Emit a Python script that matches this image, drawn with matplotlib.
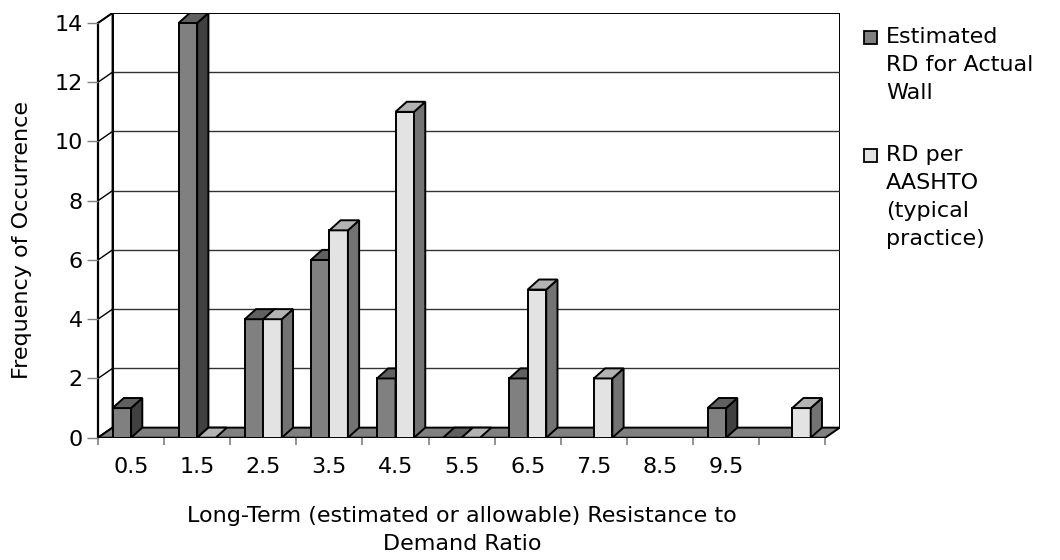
import numpy as np
import matplotlib.pyplot as plt
from matplotlib.patches import Polygon, Rectangle

# the reference uses a widely letter-spaced Arial; DejaVu is wider and comes closer
plt.rcParams['font.family'] = ['DejaVu Sans']

categories = ['0.5', '1.5', '2.5', '3.5', '4.5', '5.5', '6.5', '7.5', '8.5', '9.5', '']
# nan = blank cell (nothing drawn), 0 = flat bar
estimated = [1, 14, 4, 6, 2, 0, 2, np.nan, np.nan, 1, np.nan]
aashto = [np.nan, 0, 4, 7, 11, 0, 5, 2, np.nan, np.nan, 1]
series_labels = ['Estimated\nRD for Actual\nWall', 'RD per\nAASHTO\n(typical\npractice)']
yticks = [0, 2, 4, 6, 8, 10, 12, 14]

# face colours: front, top, side
dark = ('#808080', '#606060', '#404040')
light = ('#e3e3e3', '#b3b3b3', '#737373')

fs = 16
ymax = yticks[-1]
ddx, ddy = 0.22, 0.34      # depth of the floor / walls
bdx = 0.17                 # depth of a bar
w = 0.28                   # bar width
n = len(categories)

fig = plt.figure(figsize=(10.6, 5.6), dpi=100)
ax = fig.add_axes([98 / 1060, 122.3 / 560, 741.8 / 1060, 424.8 / 560])
ax.set_xlim(-0.5, n - 0.5 + ddx)
ax.set_ylim(0, ymax + ddy)
ax.patch.set_visible(False)

x_l, x_r = -0.5, n - 0.5

# back wall + gridlines
ax.add_patch(Rectangle((x_l + ddx, ddy), n, ymax, fc='white', ec='black', lw=1.4, zorder=0))
for v in yticks[1:-1]:
    ax.plot([x_l + ddx, x_r + ddx], [v + ddy, v + ddy], color='#333333', lw=1, zorder=0.5)
# left wall
ax.add_patch(Polygon([(x_l, 0), (x_l + ddx, ddy), (x_l + ddx, ymax + ddy), (x_l, ymax)],
                     closed=True, fc='white', ec='black', lw=1.4, zorder=1))
for v in yticks:
    ax.plot([x_l, x_l + ddx], [v, v + ddy], color='black', lw=1, zorder=1.2)
# floor
ax.add_patch(Polygon([(x_l, 0), (x_r, 0), (x_r + ddx, ddy), (x_l + ddx, ddy)],
                     closed=True, fc='#808080', ec='black', lw=1.4, zorder=1.5))

# bars
for i in range(n):
    for s, (vals, cols) in enumerate([(estimated, dark), (aashto, light)]):
        v = vals[i]
        if np.isnan(v):
            continue
        z = 2 + i * 0.1 + s * 0.05
        x0 = i - w + s * w
        top = [(x0, v), (x0 + w, v), (x0 + w + bdx, v + ddy), (x0 + bdx, v + ddy)]
        if v > 0:
            ax.bar(x0, v, width=w, align='edge', color=cols[0], edgecolor='black', lw=1.4, zorder=z)
            side = [(x0 + w, 0), (x0 + w + bdx, ddy), (x0 + w + bdx, v + ddy), (x0 + w, v)]
            ax.add_patch(Polygon(side, closed=True, fc=cols[2], ec='black', lw=1.4, zorder=z))
        ax.add_patch(Polygon(top, closed=True, fc=cols[1], ec='black', lw=1.4, zorder=z))

# axes, ticks
for sp in ['top', 'right', 'bottom']:
    ax.spines[sp].set_visible(False)
ax.spines['left'].set_bounds(0, ymax)
ax.spines['left'].set_linewidth(1.6)
ax.spines['left'].set_zorder(1.3)
ax.set_yticks(yticks)
ax.set_yticklabels([str(t) for t in yticks], fontsize=fs)
ax.tick_params(axis='y', direction='out', length=8, width=1, color='#808080', pad=3)
ax.set_xticks(np.arange(n + 1) - 0.5)
ax.set_xticklabels([])
ax.tick_params(axis='x', which='major', direction='out', length=5, width=1.2, color='#808080')
ax.set_xticks(np.arange(n), minor=True)
ax.set_xticklabels(categories, minor=True, fontsize=fs)
ax.tick_params(axis='x', which='minor', length=0, pad=14)

fig.text(22 / 1060, 1 - 240 / 560, 'Frequency of Occurrence', rotation=90,
         ha='center', va='center', fontsize=fs)
fig.text(462 / 1060, 1 - 530 / 560,
         'Long-Term (estimated or allowable) Resistance to\nDemand Ratio',
         ha='center', va='center', fontsize=fs, linespacing=1.5)

# legend
for lab, cols, yc in zip(series_labels, [dark, light], [37, 155]):
    fig.patches.append(Rectangle((864 / 1060, 1 - (yc + 7) / 560), 13 / 1060, 13 / 560,
                                 transform=fig.transFigure, fc=cols[0], ec='black', lw=1.3))
    fig.text(886 / 1060, 1 - (yc - 10) / 560, lab, ha='left', va='top',
             fontsize=fs, linespacing=1.5)

fig.savefig('out.png', dpi=100)
